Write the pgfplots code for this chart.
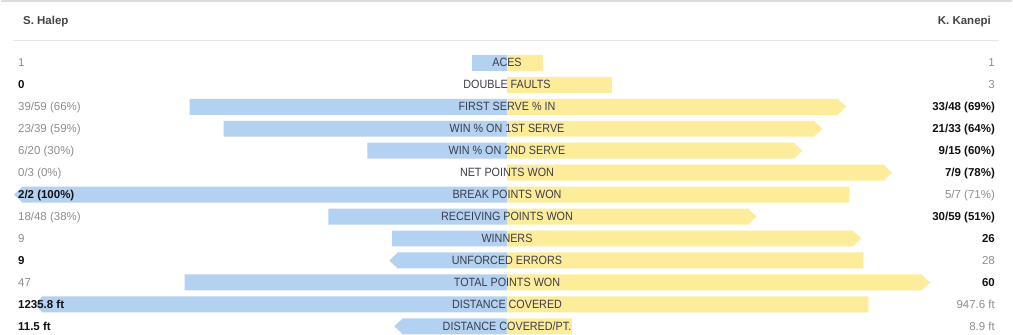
\documentclass[border=0pt]{standalone}
\usepackage{pgfplots}
\pgfplotsset{compat=1.18}
\usepackage{pgfplotstable}
\usepackage{fontspec}
\setmainfont{Liberation Sans}
\newfontfamily\din[FakeStretch=0.9]{Liberation Sans}
\definecolor{hblue}{HTML}{B3D1F0}
\definecolor{kyel}{HTML}{FDEC9A}
\definecolor{lab}{HTML}{3C3C4C}
\definecolor{gr}{HTML}{8C8C8C}
\definecolor{blk}{HTML}{111111}
\definecolor{hdr}{HTML}{444444}
\definecolor{sep}{HTML}{E6E6E6}

\pgfdeclareplotmark{ltip}{%
  \pgfpathmoveto{\pgfqpoint{0pt}{0pt}}%
  \pgfpathlineto{\pgfqpoint{8.7pt}{8pt}}%
  \pgfpathlineto{\pgfqpoint{8.7pt}{-8pt}}%
  \pgfpathclose\pgfusepathqfill}
\pgfdeclareplotmark{rtip}{%
  \pgfpathmoveto{\pgfqpoint{0pt}{0pt}}%
  \pgfpathlineto{\pgfqpoint{-8.7pt}{8pt}}%
  \pgfpathlineto{\pgfqpoint{-8.7pt}{-8pt}}%
  \pgfpathclose\pgfusepathqfill}

% y = row centre (px), bl/yl = bar length (px) of Halep / Kanepi, ba/ya = 1 if arrow-tipped
\pgfplotstableread{
y   bl  ba  yl  ya
63  35  0   36  0
85  0   0   105 0
107 318 0   340 1
129 284 0   316 1
151 140 0   296 1
173 0   0   386 1
195 494 1   343 0
217 179 0   250 1
239 115 0   355 1
261 118 1   357 0
283 323 0   424 1
305 474 1   362 0
327 113 1   65  0
}\bars

\newcommand\LN[3]{\node[anchor=base west, text=#2, inner sep=0pt, font=\fontsize{11.5}{13}\selectfont] at (axis cs:-490,#1) {#3};}
\newcommand\RN[3]{\node[anchor=base east, text=#2, inner sep=0pt, font=\fontsize{11.5}{13}\selectfont] at (axis cs:489,#1) {#3};}
\newcommand\CL[2]{\node[anchor=base, text=lab, inner sep=0pt, font=\din\fontsize{12}{14}\selectfont] at (axis cs:0,#1) {#2};}

\begin{document}
\begin{tikzpicture}
\begin{axis}[
  width=1013pt, height=345pt, scale only axis,
  xmin=-507, xmax=506, ymin=0, ymax=345, y dir=reverse,
  axis lines=none, clip=false, set layers=standard,
]
% frame lines
\addplot[draw=sep!90!gray, line width=2pt, forget plot] coordinates {(-507,1) (506,1)};
\addplot[draw=sep, line width=1pt, forget plot] coordinates {(-495,41) (493,41)};
% bars
\addplot[xbar, bar shift=0pt, bar width=16, fill=hblue, draw=none]
  table[x expr={-(\thisrow{bl}-8*\thisrow{ba})}, y=y] {\bars};
\addplot[xbar, bar shift=0pt, bar width=16, fill=kyel, draw=none]
  table[x expr={\thisrow{yl}-8*\thisrow{ya}}, y=y] {\bars};
% arrow tips
\addplot[only marks, mark=ltip, color=hblue, fill=hblue,
  restrict expr to domain={\thisrow{ba}}{0.5:1.5}]
  table[x expr={-\thisrow{bl}}, y=y] {\bars};
\addplot[only marks, mark=rtip, color=kyel, fill=kyel,
  restrict expr to domain={\thisrow{ya}}{0.5:1.5}]
  table[x expr={\thisrow{yl}}, y=y] {\bars};

\begin{pgfonlayer}{axis foreground}
% header
\node[anchor=base west, text=hdr, inner sep=0pt, font=\bfseries\fontsize{11.5}{13}\selectfont] at (axis cs:-485,25) {S. Halep};
\node[anchor=base east, text=hdr, inner sep=0pt, font=\bfseries\fontsize{11.5}{13}\selectfont] at (axis cs:485,25) {K. Kanepi};

% centre labels
\CL{67}{ACES}
\CL{89}{DOUBLE FAULTS}
\CL{111}{FIRST SERVE \% IN}
\CL{133}{WIN \% ON 1ST SERVE}
\CL{155}{WIN \% ON 2ND SERVE}
\CL{177}{NET POINTS WON}
\CL{199}{BREAK POINTS WON}
\CL{221}{RECEIVING POINTS WON}
\CL{243}{WINNERS}
\CL{265}{UNFORCED ERRORS}
\CL{287}{TOTAL POINTS WON}
\CL{309}{DISTANCE COVERED}
\CL{331}{DISTANCE COVERED/PT.}

% Halep
\LN{67}{gr}{1}
\LN{89}{blk}{\bfseries 0}
\LN{111}{gr}{39/59 (66\%)}
\LN{133}{gr}{23/39 (59\%)}
\LN{155}{gr}{6/20 (30\%)}
\LN{177}{gr}{0/3 (0\%)}
\LN{199}{blk}{\bfseries 2/2 (100\%)}
\LN{221}{gr}{18/48 (38\%)}
\LN{243}{gr}{9}
\LN{265}{blk}{\bfseries 9}
\LN{287}{gr}{47}
\LN{309}{blk}{\bfseries 1235.8 ft}
\LN{331}{blk}{\bfseries 11.5 ft}

% Kanepi
\RN{67}{gr}{1}
\RN{89}{gr}{3}
\RN{111}{blk}{\bfseries 33/48 (69\%)}
\RN{133}{blk}{\bfseries 21/33 (64\%)}
\RN{155}{blk}{\bfseries 9/15 (60\%)}
\RN{177}{blk}{\bfseries 7/9 (78\%)}
\RN{199}{gr}{5/7 (71\%)}
\RN{221}{blk}{\bfseries 30/59 (51\%)}
\RN{243}{blk}{\bfseries 26}
\RN{265}{gr}{28}
\RN{287}{blk}{\bfseries 60}
\RN{309}{gr}{947.6 ft}
\RN{331}{gr}{8.9 ft}
\end{pgfonlayer}
\end{axis}
\end{tikzpicture}
\end{document}
